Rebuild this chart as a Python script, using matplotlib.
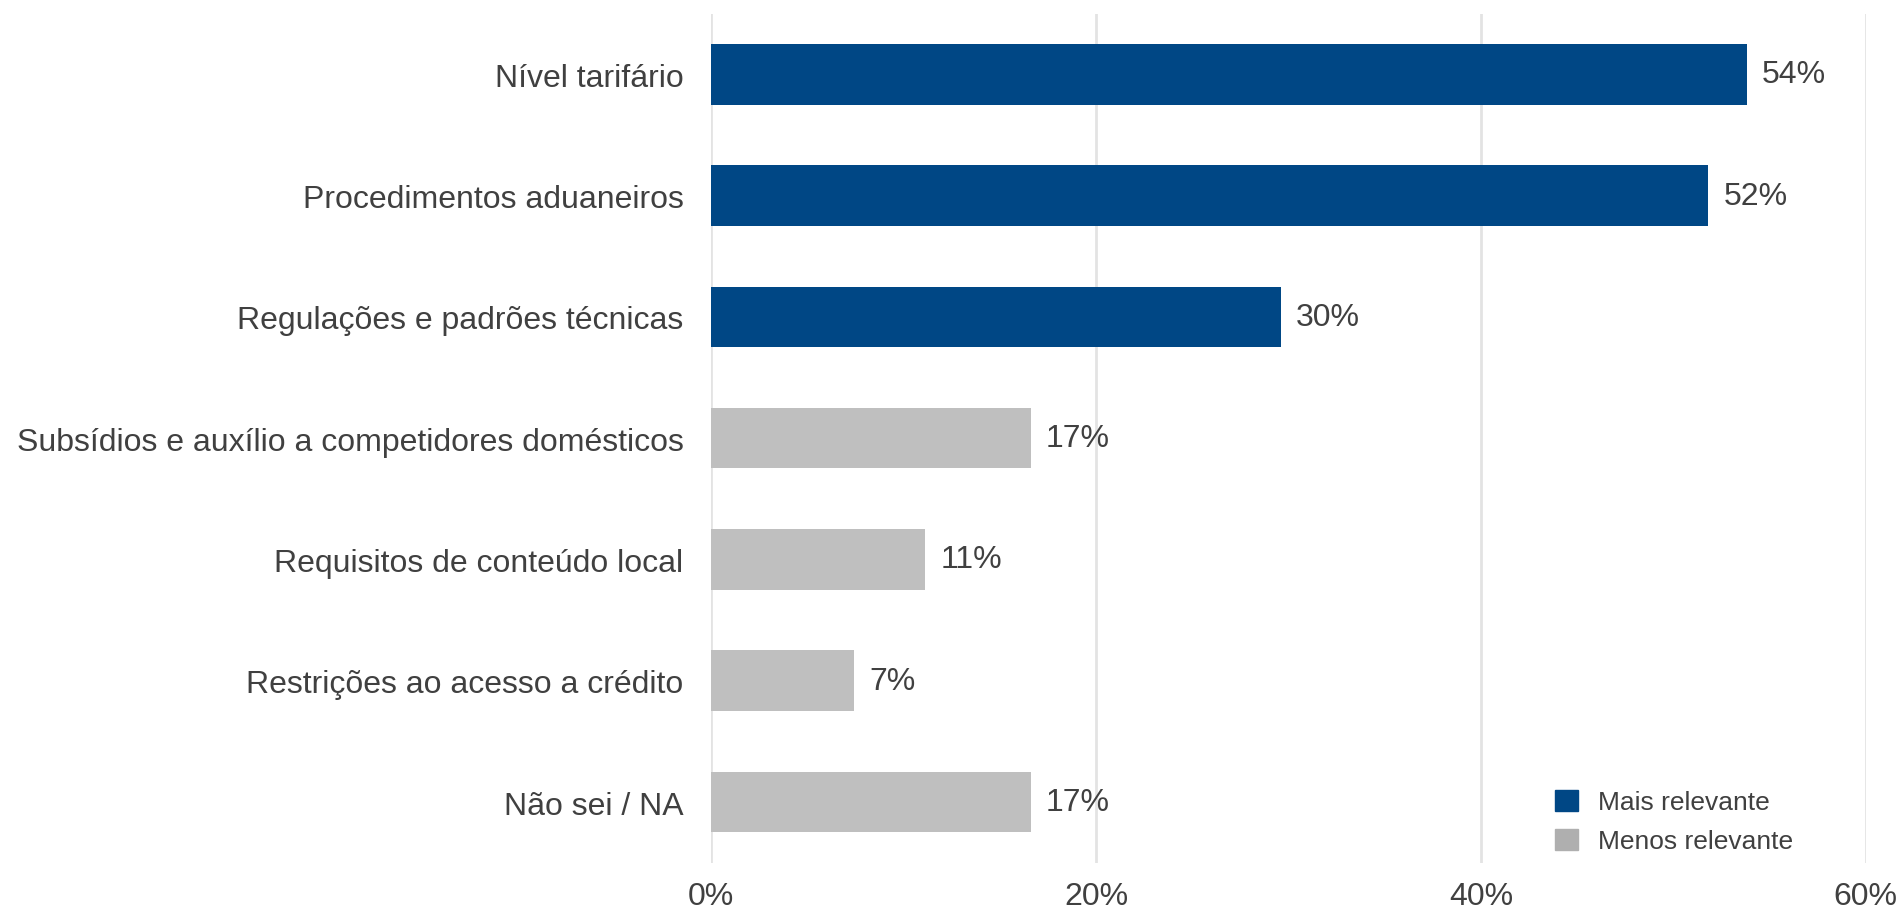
import matplotlib.pyplot as plt
from matplotlib.patches import Patch

plt.rcParams['font.family'] = ['Liberation Sans', 'DejaVu Sans']

categories = ['Nível tarifário', 'Procedimentos aduaneiros', 'Regulações e padrões técnicas',
              'Subsídios e auxílio a competidores domésticos', 'Requisitos de conteúdo local',
              'Restrições ao acesso a crédito', 'Não sei / NA']
values = [53.8, 51.8, 29.6, 16.6, 11.1, 7.4, 16.6]
value_labels = ['54%', '52%', '30%', '17%', '11%', '7%', '17%']
groups = ['Mais relevante', 'Mais relevante', 'Mais relevante', 'Menos relevante',
          'Menos relevante', 'Menos relevante', 'Menos relevante']
xticks = [0, 20, 40, 60]
xtick_labels = ['0%', '20%', '40%', '60%']

bar_col = {'Mais relevante': '#004785', 'Menos relevante': '#BFBFBF'}
leg_col = {'Mais relevante': '#004785', 'Menos relevante': '#AFAFAF'}
txt = '#404040'

fig = plt.figure(figsize=(19.02, 9.12), dpi=100)
ax = fig.add_axes([0.374, 0.053, 0.607, 0.931])

ypos = list(range(len(categories)))
ax.barh(ypos, values, height=0.5, color=[bar_col[g] for g in groups], zorder=3)
for y, v, lab in zip(ypos, values, value_labels):
    ax.annotate(lab, (v, y), xytext=(11, 0), textcoords='offset points',
                va='center', ha='left', fontsize=23, color=txt)

ax.set_ylim(6.5, -0.5)
ax.set_xlim(0, 60)
ax.set_yticks(ypos)
ax.set_yticklabels(categories, fontsize=23, color=txt)
ax.set_xticks(xticks)
ax.set_xticklabels(xtick_labels, fontsize=23, color=txt)
ax.tick_params(length=0)
ax.tick_params(axis='y', pad=20)
ax.tick_params(axis='x', pad=13)
ax.grid(axis='x', color='#E3E3E3', linewidth=2, zorder=0)
ax.set_axisbelow(True)
for s in ax.spines.values():
    s.set_visible(False)

handles = [Patch(color=leg_col[g]) for g in ['Mais relevante', 'Menos relevante']]
ax.legend(handles, ['Mais relevante', 'Menos relevante'], loc='upper left',
          bbox_to_anchor=(0.731, 0.086), frameon=False, fontsize=19,
          borderpad=0, borderaxespad=0,
          handlelength=0.85, handleheight=0.85, labelspacing=0.55, handletextpad=0.75,
          labelcolor=txt)

plt.savefig('out.png', dpi=100)
